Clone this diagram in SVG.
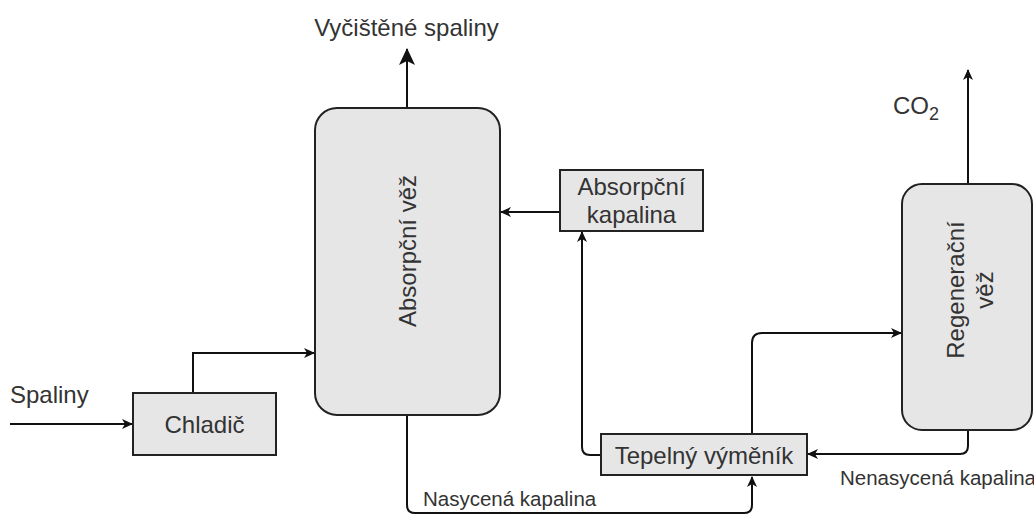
<svg xmlns="http://www.w3.org/2000/svg" width="1034" height="515" viewBox="0 0 1034 515">
<style>
.box{fill:#e6e6e6;stroke:#222;stroke-width:2}
.lbl{font-family:"Liberation Sans",Arial,sans-serif;font-size:24px;fill:#333}
.elbl{font-family:"Liberation Sans",Arial,sans-serif;font-size:20.5px;fill:#333}
.c{text-anchor:middle}
.ln{fill:none;stroke:#111;stroke-width:2}
</style>
<defs>
<marker id="ah" markerWidth="12" markerHeight="12" refX="10" refY="6" orient="auto" markerUnits="userSpaceOnUse">
<path d="M0,1 L11,6 L0,11 L3,6 Z" fill="#111"/>
</marker>
<marker id="ahb" markerWidth="18" markerHeight="18" refX="16" refY="9" orient="auto" markerUnits="userSpaceOnUse">
<path d="M0,1 L17,9 L0,17 L4,9 Z" fill="#111"/>
</marker>
</defs>
<rect width="1034" height="515" fill="#fff"/>
<g id="connectors">
<path class="ln" d="M10,424 H132" marker-end="url(#ah)"/>
<path class="ln" d="M193,393 V353 H314" marker-end="url(#ah)"/>
<path class="ln" d="M560,212 H501" marker-end="url(#ah)"/>
<path class="ln" d="M407,108 V49" marker-end="url(#ahb)"/>
<path class="ln" d="M407,415 V505 Q407,513 415,513 H744 Q752,513 752,505 V477" marker-end="url(#ah)"/>
<path class="ln" d="M601,455 H590 Q582,455 582,447 V232" marker-end="url(#ah)"/>
<path class="ln" d="M752,434 V343 Q752,333 762,333 H901" marker-end="url(#ah)"/>
<path class="ln" d="M968,184 V70" marker-end="url(#ah)"/>
<path class="ln" d="M968,430 V446 Q968,454 960,454 H808" marker-end="url(#ah)"/>
</g>
<g id="absorpcni-vez">
<rect class="box" x="315" y="108" width="185" height="307" rx="22" ry="22"/>
<text class="lbl c" x="416" y="251" transform="rotate(-90 416 251)">Absorpční věž</text>
</g>
<g id="absorpcni-kapalina">
<rect class="box" x="560" y="170" width="143" height="61"/>
<text class="lbl c" x="631.5" y="195">Absorpční</text>
<text class="lbl c" x="631.5" y="223">kapalina</text>
</g>
<g id="chladic">
<rect class="box" x="133" y="393" width="143" height="62"/>
<text class="lbl c" x="204.5" y="433">Chladič</text>
</g>
<g id="tepelny-vymenik">
<rect class="box" x="601" y="434" width="206" height="41"/>
<text class="lbl c" x="704" y="464">Tepelný výměník</text>
</g>
<g id="regeneracni-vez">
<rect class="box" x="902" y="184" width="130" height="246" rx="20" ry="20"/>
<text class="lbl c" x="964" y="290" transform="rotate(-90 964 290)">Regenerační</text>
<text class="lbl c" x="993" y="290" transform="rotate(-90 993 290)">věž</text>
</g>
<g id="labels">
<text class="lbl c" x="406.5" y="36">Vyčištěné spaliny</text>
<text class="lbl" x="10" y="403">Spaliny</text>
<text class="lbl" x="893" y="114">CO<tspan font-size="18" dy="6">2</tspan></text>
<text class="elbl" x="423" y="506">Nasycená kapalina</text>
<text class="elbl" x="840" y="485">Nenasycená kapalina</text>
</g>
</svg>
